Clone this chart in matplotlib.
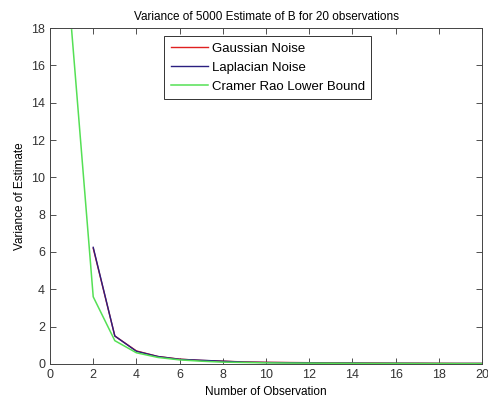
import matplotlib
matplotlib.use('Agg')
import matplotlib.pyplot as plt
import numpy as np

# number of observations
n_crlb = list(range(1, 21))
n_est = list(range(2, 21))

# variance of estimate
var_gauss = [6.2, 1.5, 0.7, 0.4, 0.26, 0.19, 0.15, 0.11, 0.09, 0.08,
             0.07, 0.06, 0.05, 0.05, 0.04, 0.04, 0.035, 0.03, 0.03]
var_laplace = [6.25, 1.5, 0.68, 0.4, 0.25, 0.2, 0.15, 0.1, 0.08, 0.07,
               0.06, 0.05, 0.05, 0.04, 0.04, 0.035, 0.03, 0.03, 0.03]
crlb = [17.9, 3.6, 1.25, 0.6, 0.35, 0.22, 0.15, 0.1, 0.08, 0.06,
        0.05, 0.045, 0.04, 0.035, 0.03, 0.03, 0.025, 0.025, 0.02, 0.02]

plt.rcParams['font.family'] = ['Liberation Sans', 'DejaVu Sans']
plt.rcParams['font.size'] = 8

fig = plt.figure(figsize=(4.88, 4.03), dpi=100)
ax = fig.add_axes([0.1025, 0.0968, 0.8852, 0.8337])

ax.plot(n_est, var_gauss, color='#e02020', lw=1, label='Gaussian Noise')
ax.plot(n_est, var_laplace, color='#2a1f80', lw=1, label='Laplacian Noise')
ax.plot(n_crlb, crlb, color='#55e055', lw=1.1, label='Cramer Rao Lower Bound')

ax.set_xlim(0, 20)
ax.set_ylim(0, 18)
ax.set_xticks(np.arange(0, 21, 2))
ax.set_yticks(np.arange(0, 19, 2))
ax.tick_params(direction='in', top=True, right=True, length=4, width=0.6,
               colors='#333333', labelsize=9)
for s in ax.spines.values():
    s.set_linewidth(0.7)
    s.set_color('#444444')

ax.set_title('Variance of 5000 Estimate of B for 20 observations', fontsize=8.5, pad=6)
ax.set_xlabel('Number of Observation', fontsize=8.5)
ax.set_ylabel('Variance of Estimate', fontsize=8.5)

leg = ax.legend(loc='upper left', bbox_to_anchor=(0.264, 0.976), borderaxespad=0,
                fontsize=9.5, fancybox=False, framealpha=1, edgecolor='#333333',
                borderpad=0.5, labelspacing=0.5, handlelength=2.8,
                handletextpad=0.3)
leg.get_frame().set_linewidth(0.7)

fig.savefig('out.png', dpi=100)
